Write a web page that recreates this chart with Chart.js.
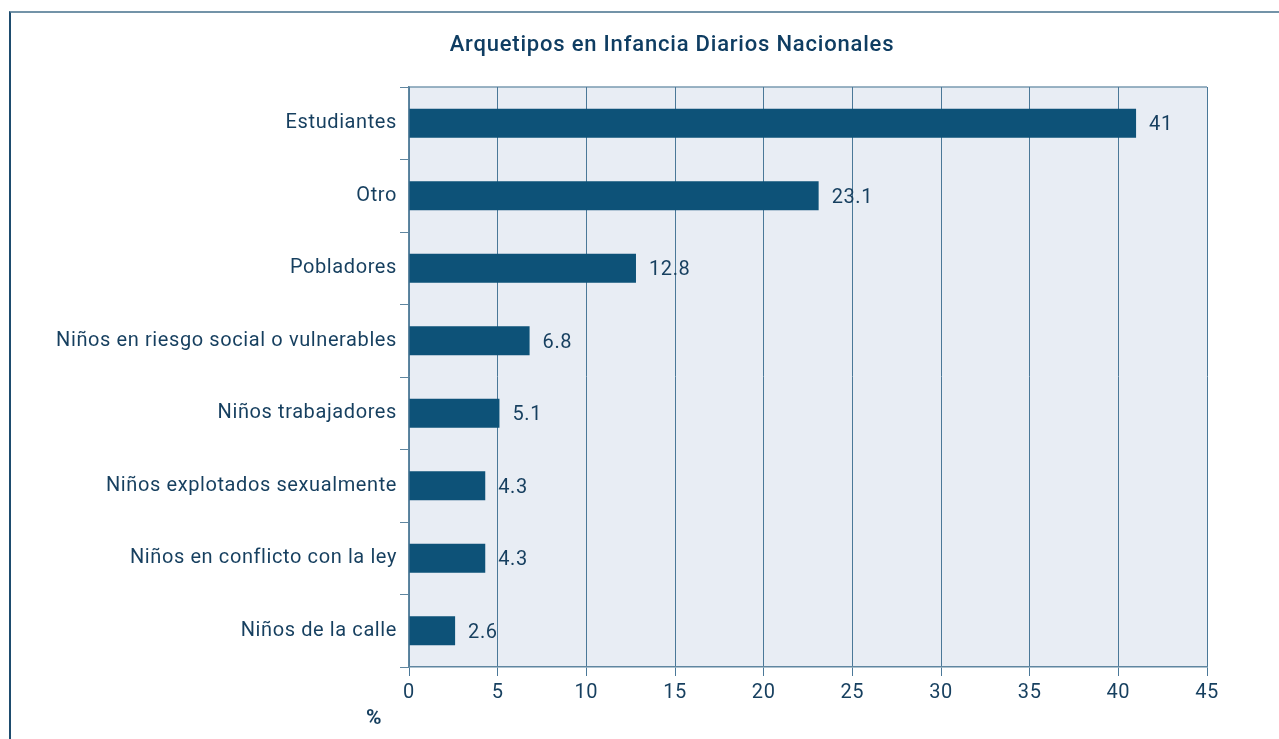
<!DOCTYPE html>
<html>
<head>
<meta charset="utf-8">
<script src="https://cdn.jsdelivr.net/npm/chart.js@4/dist/chart.umd.min.js"></script>
<style>
  body { margin: 0; background: #fff; }
  #wrap { position: relative; width: 1279px; height: 739px; overflow: hidden; }
  #frame { position: absolute; left: 9px; top: 11px; right: -5px; bottom: -5px;
           border-top: 2px solid #7393a8; border-left: 2px solid #1e4c6e; }
  canvas { position: absolute; left: 0; top: 0; }
</style>
</head>
<body>
<div id="wrap">
  <div id="frame"></div>
  <canvas id="chart" width="1279" height="739"></canvas>
</div>
<script>
const categories = [
  'Estudiantes',
  'Otro',
  'Pobladores',
  'Niños en riesgo social o vulnerables',
  'Niños trabajadores',
  'Niños explotados sexualmente',
  'Niños en conflicto con la ley',
  'Niños de la calle'
];
const percentages = [41, 23.1, 12.8, 6.8, 5.1, 4.3, 4.3, 2.6];
const valueLabels = ['41', '23.1', '12.8', '6.8', '5.1', '4.3', '4.3', '2.6'];
const chartTitle = 'Arquetipos en Infancia Diarios Nacionales';
const axisUnit = '%';

const textColor = '#163f5f';
const fontFamily = 'Roboto, "DejaVu Sans", sans-serif';

// plot background + outline, drawn under the grid
const plotBackground = {
  id: 'plotBackground',
  beforeDraw(chart) {
    const { ctx, chartArea: a } = chart;
    // the original font is a wide DIN, so space the letters out a bit
    ctx.letterSpacing = '0.6px';
    ctx.save();
    ctx.fillStyle = '#e8edf4';
    ctx.fillRect(a.left, a.top, a.right - a.left, a.bottom - a.top);
    ctx.strokeStyle = '#7a9ab0';
    ctx.lineWidth = 1.5;
    ctx.beginPath();
    ctx.moveTo(a.left, a.top);
    ctx.lineTo(a.right, a.top);
    ctx.stroke();
    ctx.restore();
  }
};

// title, value labels and the % unit
const extraText = {
  id: 'extraText',
  afterDatasetsDraw(chart) {
    const { ctx } = chart;
    ctx.save();
    ctx.fillStyle = '#0f3d62';
    ctx.font = '500 22px ' + fontFamily;
    ctx.letterSpacing = '0.8px';
    ctx.textAlign = 'center';
    ctx.textBaseline = 'middle';
    ctx.fillText(chartTitle, 672, 45);

    ctx.letterSpacing = '0.6px';
    ctx.fillStyle = textColor;
    ctx.font = '20px ' + fontFamily;
    ctx.textAlign = 'left';
    chart.getDatasetMeta(0).data.forEach((bar, i) => {
      ctx.fillText(valueLabels[i], bar.x + 13, bar.y + 2);
    });

    ctx.font = 'bold 21px ' + fontFamily;
    ctx.textAlign = 'center';
    ctx.fillText(axisUnit, 374, 719);
    ctx.restore();
  }
};

new Chart(document.getElementById('chart'), {
  type: 'bar',
  data: {
    labels: categories,
    datasets: [{
      data: percentages,
      backgroundColor: '#0d5278',
      borderWidth: 0,
      barPercentage: 0.4,
      categoryPercentage: 1
    }]
  },
  options: {
    indexAxis: 'y',
    responsive: false,
    animation: false,
    layout: { padding: { top: 87, right: 72, left: 0, bottom: 0 } },
    plugins: {
      legend: { display: false },
      tooltip: { enabled: false }
    },
    scales: {
      x: {
        min: 0,
        max: 45,
        ticks: { stepSize: 5, color: textColor, font: { family: fontFamily, size: 20 }, padding: 5 },
        grid: { color: '#4a7898', lineWidth: 1, tickLength: 9 },
        border: { color: '#5f86a0', width: 1.5 },
        afterFit(scale) { scale.height = 72; }
      },
      y: {
        offset: true,
        ticks: { color: textColor, font: { family: fontFamily, size: 20 }, padding: 3 },
        grid: { drawOnChartArea: false, offset: true, color: '#5f86a0', tickLength: 9 },
        border: { color: '#5f86a0', width: 1.5 },
        afterFit(scale) { scale.width = 409; }
      }
    }
  },
  plugins: [plotBackground, extraText]
});
</script>
</body>
</html>
